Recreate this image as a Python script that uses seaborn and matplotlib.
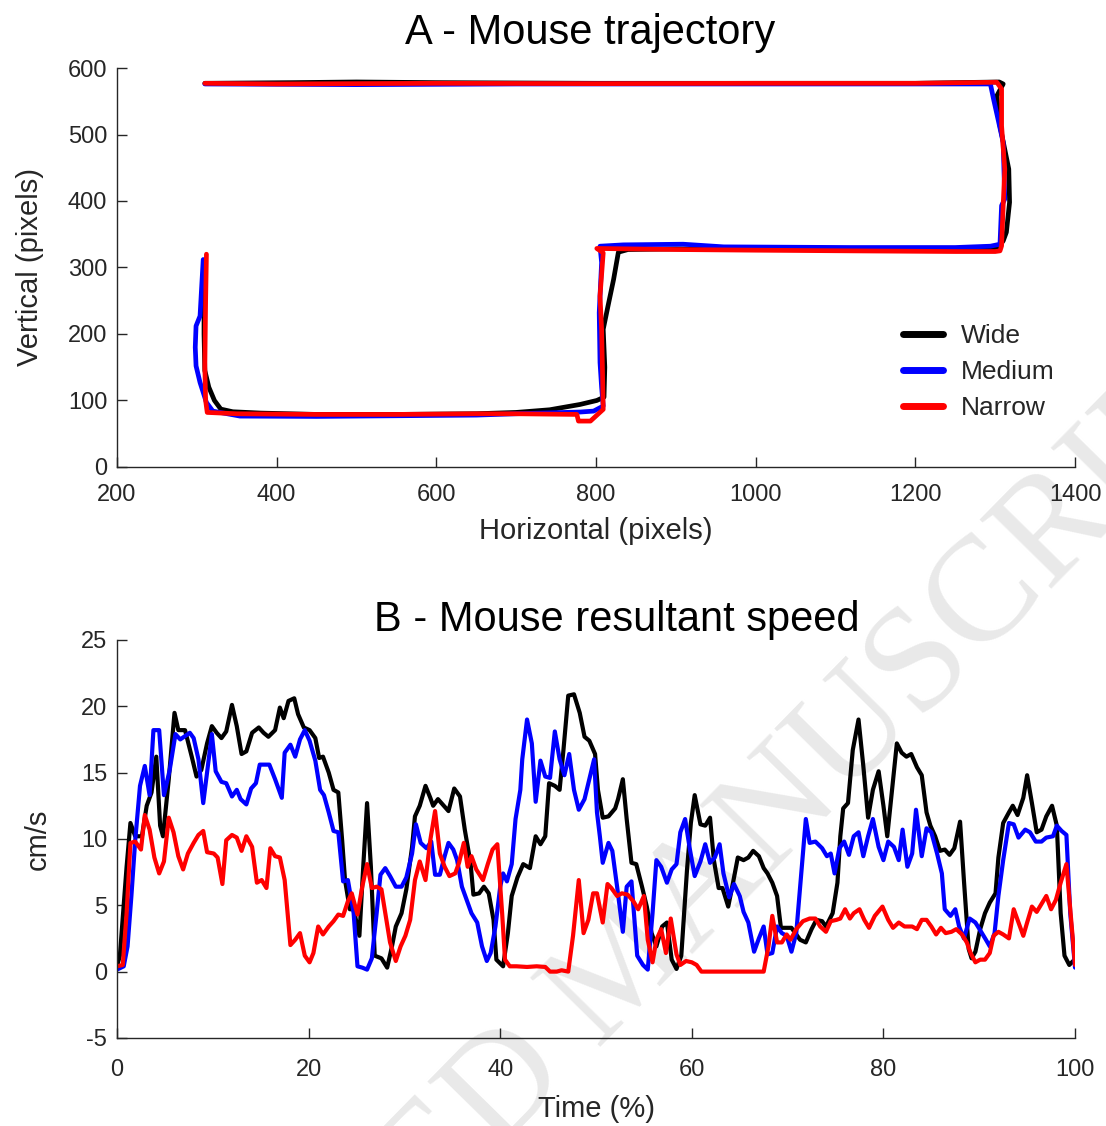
import matplotlib
matplotlib.use("Agg")
import matplotlib.pyplot as plt
import pandas as pd
import seaborn as sns

# ---------------- Panel A: trajectories (pixels) ----------------
wide_x = [309, 309, 310, 315, 322, 330, 345, 380, 450, 550, 650, 700, 742, 780, 801, 810, 811, 809, 815, 822, 828,
          840, 900, 1000, 1100, 1200, 1280, 1303, 1310, 1314, 1318, 1317, 1306, 1302, 1310, 1305, 1200, 1000, 800,
          600, 500, 420, 310]
wide_y = [305, 200, 145, 120, 100, 87, 83, 81, 79, 79, 80, 82, 86, 94, 100, 105, 150, 207, 242, 282, 323,
          327, 328, 327, 327, 327, 327, 329, 340, 353, 398, 448, 513, 558, 576, 579, 577, 577, 577,
          578, 579, 578, 577]

medium_x = [308, 306, 304, 299, 298, 299, 304, 312, 320, 354, 450, 550, 650, 700, 780, 797, 809, 807, 805, 804,
            807, 805, 834, 909, 960, 1118, 1250, 1294, 1306, 1308, 1312, 1310, 1298, 1294, 1200, 1000, 700, 500, 310]
medium_y = [312, 270, 227, 212, 180, 152, 127, 97, 84, 76.5, 76, 77, 78, 80, 82.6, 84, 91.6, 120, 157, 232,
            307.5, 332, 334, 335, 331, 330, 330, 332, 335, 393, 403, 488, 553, 576, 576, 576, 576, 575, 576]

narrow_x = [312, 311, 310, 311, 313, 350, 450, 550, 650, 700, 776, 778, 793, 809, 808, 807, 805, 809, 801, 900,
            1000, 1118, 1250, 1300, 1306, 1308, 1310, 1312, 1308, 1308, 1302, 1200, 1000, 800, 600, 400, 310]
narrow_y = [320, 250, 150, 100, 82, 80, 79, 79, 80, 80, 79, 69, 69, 86.6, 150, 207, 257, 322, 328.6, 327,
            326, 325, 324, 324, 325, 332.5, 393, 448, 513, 568.5, 578.6, 577, 577, 576.5, 577, 576, 577]

# ---------------- Panel B: resultant speed (time %, cm/s) ----------------
wide_speed = [(0, 0.4), (0.3, 1.2), (1.0, 7.9), (1.4, 11.2), (1.9, 10.2), (2.6, 10.2), (3.1, 12.5), (3.6, 13.5),
    (4.1, 16.2), (4.5, 11.0), (4.8, 10.2), (5.4, 14.5), (6.0, 19.5), (6.4, 18.2), (7.1, 18.2), (7.8, 16.2),
    (8.3, 14.7), (8.8, 15.2), (9.4, 17.2), (9.9, 18.5), (10.4, 18.0), (10.9, 17.6), (11.4, 18.1), (12.0, 20.1),
    (12.5, 18.5), (13.0, 16.4), (13.5, 16.6), (14.1, 18.0), (14.8, 18.4), (15.3, 18.0), (15.8, 17.7), (16.5, 18.2),
    (17.0, 19.9), (17.4, 19.1), (17.9, 20.4), (18.5, 20.6), (18.9, 19.4), (19.5, 18.4), (20.1, 18.2), (20.7, 17.6),
    (21.1, 16.1), (21.5, 16.2), (22.1, 15.0), (22.6, 13.7), (23.1, 13.5), (23.5, 9.9), (23.8, 6.9), (24.3, 4.7),
    (24.7, 4.7), (25.3, 2.7), (25.7, 7.9), (26.1, 12.7), (26.5, 7.9), (26.9, 1.2), (27.6, 1.0), (28.2, 0.3),
    (28.7, 1.9), (29.1, 3.4), (29.7, 4.4), (30.2, 6.2), (30.8, 9.4), (31.1, 11.7), (31.6, 12.5), (32.2, 14.0),
    (32.7, 13.1), (33.0, 12.5), (33.5, 13.0), (34.6, 12.1), (35.2, 13.8), (35.8, 13.2), (36.3, 10.7), (36.9, 8.2),
    (37.2, 5.8), (37.8, 5.9), (38.3, 6.4), (38.8, 5.9), (39.3, 3.9), (39.6, 0.9), (40.3, 0.4), (40.8, 2.9),
    (41.2, 5.7), (41.8, 7.1), (42.4, 8.1), (43.1, 7.8), (43.7, 10.2), (44.2, 9.6), (44.7, 10.2), (45.1, 14.2),
    (45.7, 14.0), (46.2, 13.7), (46.6, 16.7), (47.1, 20.8), (47.7, 20.9), (48.3, 19.5), (48.8, 17.7), (49.3, 17.4),
    (49.9, 16.4), (50.2, 13.7), (50.7, 11.6), (51.3, 11.7), (52.0, 12.3), (52.3, 13.0), (52.8, 14.5), (53.2, 11.5),
    (53.7, 8.2), (54.2, 8.1), (54.8, 6.4), (55.3, 4.9), (55.8, 2.9), (56.3, 1.9), (56.9, 3.4), (57.4, 3.7),
    (57.9, 0.9), (58.4, 0.2), (58.9, 1.2), (59.5, 7.7), (59.9, 11.2), (60.3, 13.3), (60.9, 11.1), (61.4, 11.0),
    (61.9, 11.6), (62.3, 8.4), (62.8, 6.3), (63.2, 6.3), (63.8, 4.9), (64.3, 6.7), (64.8, 8.6), (65.4, 8.4),
    (65.9, 8.6), (66.4, 9.1), (67.0, 8.7), (67.5, 7.8), (67.9, 7.4), (68.4, 6.7), (68.9, 5.7), (69.3, 3.3),
    (69.8, 3.3), (70.4, 3.3), (70.8, 2.9), (71.3, 2.4), (71.9, 2.2), (72.5, 3.2), (73.0, 3.9), (73.6, 3.8),
    (74.0, 3.4), (74.7, 4.4), (75.2, 6.7), (75.5, 10.2), (75.8, 12.3), (76.3, 12.7), (76.8, 16.7), (77.4, 19.0),
    (77.9, 15.5), (78.4, 11.6), (78.9, 13.7), (79.5, 15.1), (80.0, 12.5), (80.4, 10.2), (80.9, 13.7), (81.4, 17.2),
    (81.9, 16.5), (82.4, 16.2), (82.9, 16.4), (83.5, 15.4), (84.0, 14.8), (84.5, 12.0), (84.9, 11.0), (85.4, 10.2),
    (85.9, 9.1), (86.4, 9.2), (86.9, 8.8), (87.4, 9.3), (88.0, 11.3), (88.4, 6.9), (88.9, 1.7), (89.2, 1.0),
    (89.6, 1.5), (90.1, 3.2), (90.6, 4.4), (91.1, 5.2), (91.7, 5.9), (92.0, 8.6), (92.5, 11.2), (93.1, 12.0),
    (93.5, 12.5), (94.0, 11.8), (94.6, 13.1), (95.0, 14.8), (95.5, 12.7), (96.0, 10.5), (96.5, 10.7), (97.0, 11.7),
    (97.6, 12.5), (98.1, 11.0), (98.5, 4.4), (98.9, 1.2), (99.4, 0.5), (99.8, 0.8)]

medium_speed = [(0, 0.15), (0.7, 0.4), (1.1, 1.9), (1.5, 5.7), (1.9, 9.9), (2.4, 14.0), (2.9, 15.5), (3.4, 13.3),
    (3.8, 18.2), (4.4, 18.2), (4.9, 13.3), (5.5, 15.2), (6.1, 17.9), (6.6, 17.5), (7.0, 17.7), (7.6, 18.0),
    (8.0, 17.6), (8.5, 16.0), (9.0, 12.7), (9.4, 15.0), (9.9, 17.9), (10.3, 15.1), (10.9, 14.3), (11.4, 14.2),
    (12.0, 13.2), (12.5, 13.7), (12.9, 13.0), (13.5, 12.6), (14.0, 13.8), (14.5, 14.2), (14.9, 15.6), (15.9, 15.6),
    (16.5, 14.5), (17.2, 13.1), (17.5, 16.5), (18.1, 17.1), (18.6, 16.2), (19.1, 17.5), (19.6, 18.2), (20.1, 17.4),
    (20.7, 15.9), (21.2, 13.7), (21.6, 13.3), (22.1, 12.0), (22.6, 10.6), (23.1, 10.5), (23.6, 6.8), (24.1, 6.9),
    (24.7, 4.4), (25.1, 0.4), (25.6, 0.3), (26.1, 0.15), (26.6, 1.0), (27.1, 4.4), (27.5, 7.3), (28.0, 7.8),
    (28.5, 7.2), (29.1, 6.4), (29.7, 6.4), (30.2, 7.1), (30.8, 8.9), (31.2, 11.1), (31.7, 9.7), (32.3, 9.3),
    (32.8, 9.8), (33.2, 7.3), (33.7, 7.3), (34.2, 8.7), (34.6, 9.7), (35.1, 9.2), (35.5, 8.4), (36.0, 6.4),
    (36.5, 5.4), (37.0, 4.4), (37.6, 3.7), (38.1, 1.9), (38.6, 0.8), (39.0, 1.4), (39.5, 3.4), (40.0, 6.4),
    (40.3, 7.4), (40.7, 6.8), (41.2, 8.1), (41.6, 11.5), (42.1, 13.7), (42.3, 16.0), (42.8, 19.0), (43.3, 17.2),
    (43.7, 12.8), (44.2, 15.9), (44.7, 14.7), (45.2, 14.6), (45.7, 18.1), (46.2, 16.0), (46.7, 14.8), (47.2, 16.4),
    (47.7, 13.7), (48.2, 12.2), (48.8, 13.0), (49.3, 14.5), (49.8, 16.0), (50.1, 12.0), (50.4, 10.2), (50.7, 8.2),
    (51.3, 9.7), (51.7, 9.1), (52.2, 6.4), (52.8, 3.0), (53.2, 6.4), (53.7, 6.8), (54.3, 1.2), (54.9, 0.5),
    (55.4, 0.15), (55.9, 4.4), (56.3, 8.4), (56.8, 7.9), (57.4, 6.7), (57.9, 7.7), (58.4, 8.1), (58.8, 10.5),
    (59.3, 11.5), (59.8, 9.2), (60.3, 7.2), (60.9, 8.3), (61.4, 9.6), (61.9, 8.2), (62.4, 8.6), (62.9, 9.6),
    (63.3, 7.4), (63.9, 5.6), (64.4, 6.6), (65.0, 5.7), (65.4, 4.5), (65.9, 3.7), (66.5, 1.5), (67.0, 2.5),
    (67.5, 3.4), (67.9, 1.3), (68.4, 1.4), (68.9, 3.4), (69.4, 2.9), (69.9, 2.7), (70.4, 1.5), (70.9, 2.9),
    (71.4, 7.2), (71.9, 11.5), (72.3, 9.7), (72.9, 9.8), (73.6, 9.3), (74.1, 8.7), (74.5, 8.9), (74.9, 7.4),
    (75.4, 9.3), (75.9, 9.8), (76.4, 8.8), (76.9, 10.2), (77.4, 10.5), (77.9, 8.7), (78.4, 10.2), (78.9, 11.5),
    (79.5, 9.4), (80.0, 8.4), (80.5, 9.8), (81.1, 9.4), (81.6, 8.4), (82.0, 10.7), (82.5, 7.9), (83.0, 8.9),
    (83.4, 12.2), (84.0, 8.7), (84.5, 10.8), (85.0, 10.5), (85.6, 8.9), (86.1, 7.4), (86.4, 4.7), (87.0, 4.2),
    (87.5, 4.7), (87.9, 3.4), (88.4, 2.5), (89.0, 4.0), (89.6, 3.7), (90.2, 3.0), (90.7, 2.4), (91.1, 1.9),
    (91.6, 2.9), (92.0, 5.7), (92.5, 8.4), (93.1, 11.2), (93.6, 11.1), (94.1, 10.1), (94.8, 10.7), (95.3, 10.5),
    (95.9, 9.8), (96.5, 9.8), (97.0, 10.1), (97.7, 10.2), (98.1, 11.0), (98.6, 10.6), (99.1, 10.3), (99.5, 4.4),
    (100.0, 0.3)]

narrow_speed = [(0, 0.4), (0.6, 0.5), (1.0, 4.4), (1.4, 9.7), (1.9, 9.8), (2.5, 9.2), (2.9, 11.8), (3.4, 10.7),
    (3.9, 8.6), (4.4, 7.4), (4.9, 8.3), (5.4, 11.6), (5.9, 10.5), (6.4, 8.7), (6.9, 7.7), (7.4, 8.9), (8.0, 9.7),
    (8.5, 10.3), (9.0, 10.6), (9.4, 9.0), (10.1, 8.9), (10.5, 8.6), (11.0, 6.6), (11.4, 9.9), (12.0, 10.3),
    (12.5, 10.1), (13.0, 9.1), (13.5, 10.2), (14.1, 9.4), (14.6, 6.7), (15.1, 6.9), (15.6, 6.3), (16.0, 9.3),
    (16.5, 8.7), (17.0, 8.6), (17.5, 6.9), (18.1, 2.0), (18.6, 2.4), (19.1, 2.9), (19.6, 1.2), (20.1, 0.7),
    (20.5, 1.4), (21.0, 3.4), (21.5, 2.8), (22.1, 3.4), (22.6, 3.8), (23.1, 4.3), (23.6, 4.2), (24.1, 5.3),
    (24.5, 5.9), (25.1, 4.3), (25.6, 6.4), (26.1, 8.1), (26.6, 6.3), (27.1, 6.4), (27.6, 6.2), (28.0, 4.4),
    (28.5, 2.2), (29.1, 0.8), (29.6, 1.9), (30.1, 2.7), (30.6, 3.9), (31.1, 6.9), (31.6, 8.3), (32.2, 6.9),
    (32.7, 9.9), (33.2, 12.1), (33.7, 8.9), (34.2, 7.9), (34.7, 7.2), (35.3, 7.4), (35.7, 8.2), (36.2, 9.7),
    (36.6, 7.9), (37.0, 8.7), (37.5, 7.7), (38.2, 6.9), (38.7, 8.1), (39.2, 9.2), (39.7, 9.6), (40.2, 4.4),
    (40.5, 0.9), (41.0, 0.4), (41.7, 0.4), (42.8, 0.35), (43.8, 0.4), (44.7, 0.35), (45.2, 0.0), (45.9, 0.0),
    (46.4, 0.1), (47.1, 0.0), (47.6, 2.7), (48.2, 6.9), (48.7, 2.9), (49.2, 3.9), (49.7, 5.9), (50.1, 5.9),
    (50.7, 3.7), (51.2, 6.6), (51.6, 6.3), (52.2, 5.7), (52.7, 5.9), (53.3, 5.8), (53.9, 5.3), (54.4, 4.7),
    (55.0, 5.7), (55.4, 2.4), (55.9, 0.7), (56.3, 2.4), (56.8, 3.2), (57.3, 1.4), (57.8, 4.0), (58.4, 1.3),
    (58.8, 0.5), (59.4, 0.8), (60.0, 0.7), (60.5, 0.5), (61.0, 0.0), (63.3, 0.0), (66.8, 0.0), (67.5, 0.0),
    (68.0, 1.9), (68.4, 4.2), (68.9, 2.2), (69.4, 2.2), (69.9, 2.8), (70.3, 2.4), (70.9, 3.2), (71.6, 3.8),
    (72.3, 4.0), (72.9, 4.0), (73.4, 3.4), (74.0, 3.0), (74.5, 3.8), (75.1, 3.9), (75.5, 4.0), (76.0, 4.7),
    (76.5, 4.0), (76.9, 4.4), (77.5, 4.7), (78.0, 3.9), (78.5, 3.3), (79.1, 4.2), (79.9, 4.9), (80.5, 3.9),
    (81.0, 3.3), (81.6, 3.7), (82.2, 3.4), (83.0, 3.4), (83.5, 3.2), (84.0, 3.9), (84.5, 3.9), (85.0, 3.4),
    (85.5, 2.8), (86.0, 3.3), (86.5, 2.9), (87.1, 3.0), (87.6, 3.2), (88.2, 2.8), (88.7, 2.2), (89.1, 1.4),
    (89.6, 0.7), (90.1, 0.9), (90.6, 0.9), (91.1, 1.4), (91.5, 2.7), (92.0, 3.0), (92.5, 2.8), (93.1, 2.5),
    (93.6, 4.7), (94.1, 3.7), (94.6, 2.7), (95.0, 3.7), (95.5, 4.9), (96.0, 4.5), (96.5, 5.1), (97.0, 5.7),
    (97.5, 4.7), (98.0, 5.4), (98.5, 6.7), (99.1, 8.1), (99.5, 4.7), (100.0, 0.5)]

series_names = ["Wide", "Medium", "Narrow"]
palette = {"Wide": "#000000", "Medium": "#0000ff", "Narrow": "#ff0000"}

# ---------------- build tables ----------------
traj = pd.concat([
    pd.DataFrame({"x": wide_x, "y": wide_y, "series": "Wide"}),
    pd.DataFrame({"x": medium_x, "y": medium_y, "series": "Medium"}),
    pd.DataFrame({"x": narrow_x, "y": narrow_y, "series": "Narrow"}),
], ignore_index=True)

speed_frames = []
for name, pts in zip(series_names, [wide_speed, medium_speed, narrow_speed]):
    t, v = zip(*pts)
    speed_frames.append(pd.DataFrame({"t": t, "v": v, "series": name}))
speed = pd.concat(speed_frames, ignore_index=True)

# ---------------- style ----------------
sns.set_theme(style="white")
plt.rcParams["font.family"] = ["Liberation Sans", "DejaVu Sans"]
ink = "#262626"
plt.rcParams.update({
    "axes.unicode_minus": False,
    "xtick.direction": "in", "ytick.direction": "in",
    "xtick.major.size": 7, "ytick.major.size": 7,
    "xtick.major.width": 1.0, "ytick.major.width": 1.0,
    "xtick.color": ink, "ytick.color": ink,
    "xtick.bottom": True, "ytick.left": True,
    "axes.edgecolor": ink, "axes.linewidth": 1.0,
    "text.color": ink, "axes.labelcolor": ink,
})

fig = plt.figure(figsize=(11.06, 11.26), dpi=100, facecolor="white")

# watermark, drawn beneath the axes
fig.text(0.566, 0.139, "ACCEPTED MANUSCRIPT", rotation=45.5, rotation_mode="anchor",
         ha="center", va="center", fontsize=108, color="#e9e9e9",
         family=["Liberation Serif", "DejaVu Serif"], zorder=-5)

ax1 = fig.add_axes([0.1058, 0.5853, 0.8662, 0.3543])
ax2 = fig.add_axes([0.1058, 0.0782, 0.8662, 0.3535])
for ax in (ax1, ax2):
    ax.patch.set_alpha(0)

sns.lineplot(data=traj, x="x", y="y", hue="series", hue_order=series_names, palette=palette,
             sort=False, estimator=None, linewidth=3.4, ax=ax1)
sns.lineplot(data=speed, x="t", y="v", hue="series", hue_order=series_names, palette=palette,
             sort=False, estimator=None, linewidth=3.0, ax=ax2, legend=False)

ax1.set_xlim(200, 1400)
ax1.set_ylim(0, 600)
ax1.set_xticks(range(200, 1401, 200))
ax1.set_yticks(range(0, 601, 100))
ax2.set_xlim(0, 100)
ax2.set_ylim(-5, 25)
ax2.set_xticks(range(0, 101, 20))
ax2.set_yticks(range(-5, 26, 5))

for ax in (ax1, ax2):
    sns.despine(ax=ax)
    ax.tick_params(axis="both", labelsize=17, colors=ink)
    ax.tick_params(axis="y", pad=7)
ax1.tick_params(axis="x", pad=12)
ax2.tick_params(axis="x", pad=15)

ax1.set_xlabel("Horizontal (pixels)", fontsize=21)
ax1.set_ylabel("Vertical (pixels)", fontsize=21)
ax2.set_xlabel("Time (%)", fontsize=21)
ax2.set_ylabel("cm/s", fontsize=21)
ax1.xaxis.set_label_coords(0.5, -0.125)
ax1.yaxis.set_label_coords(-0.076, 0.5)
ax2.xaxis.set_label_coords(0.5, -0.143)
ax2.yaxis.set_label_coords(-0.068, 0.5)

ax1.set_title("A - Mouse trajectory", fontsize=30, color="black", x=0.494, pad=17)
ax2.set_title("B - Mouse resultant speed", fontsize=30, color="black", x=0.522, pad=5)

leg = ax1.legend(frameon=False, loc="upper left", bbox_to_anchor=(0.8205, 0.358),
                 borderaxespad=0, borderpad=0, fontsize=19, handlelength=1.5,
                 handletextpad=0.7, labelspacing=0.45)
for line in leg.get_lines():
    line.set_linewidth(5)

fig.savefig("out.png", dpi=100, facecolor="white")
